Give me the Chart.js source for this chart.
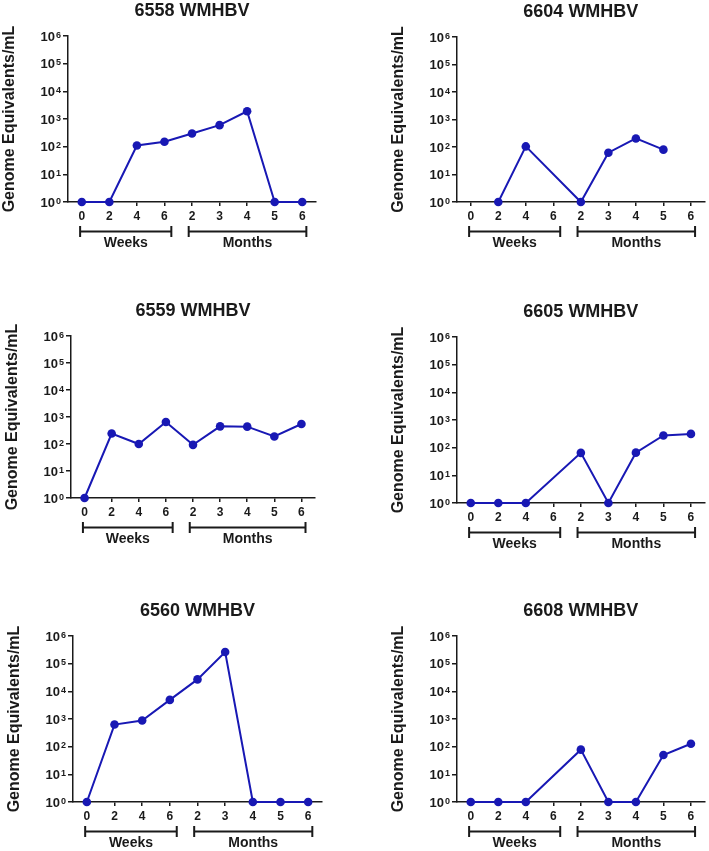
<!DOCTYPE html>
<html>
<head>
<meta charset="utf-8">
<script src="https://cdn.jsdelivr.net/npm/chart.js@4.4.1/dist/chart.umd.min.js"></script>
<style>
  html, body { margin: 0; padding: 0; background: #fff; }
  body { width: 709px; height: 851px; position: relative; overflow: hidden; }
  canvas { position: absolute; }
</style>
</head>
<body>
<script>
// x categories: weeks 0..6 then months 2..6
const timeLabels = ['0', '2', '4', '6', '2', '3', '4', '5', '6'];
const groupLabels = ['Weeks', 'Months'];
const groupRanges = [[0, 3], [4, 8]];
const yTicks = [1, 10, 100, 1000, 10000, 100000, 1000000];

const titles = ['6558 WMHBV', '6604 WMHBV', '6559 WMHBV', '6605 WMHBV', '6560 WMHBV', '6608 WMHBV'];
const wm6558 = [1, 1, 110, 150, 300, 600, 1900, 1, 1];
const wm6604 = [null, 1, 105, null, 1, 62, 205, 80, null];
const wm6559 = [1, 245, 100, 650, 93, 450, 440, 190, 550];
const wm6605 = [1, 1, 1, null, 65, 1, 66, 275, 315];
const wm6560 = [1, 630, 880, 4900, 27000, 265000, 1, 1, 1];
const wm6608 = [1, 1, 1, null, 78, 1, 1, 50, 128];
const series = [wm6558, wm6604, wm6559, wm6605, wm6560, wm6608];

// where each panel's plot area sits on the page
const boxes = [
  { colL: 0,   colW: 354, axL: 68,  axR: 316, axT: 36,  axB: 202 },
  { colL: 354, colW: 355, axL: 457, axR: 706, axT: 37,  axB: 202 },
  { colL: 0,   colW: 354, axL: 71,  axR: 315, axT: 336, axB: 498 },
  { colL: 354, colW: 355, axL: 457, axR: 706, axT: 337, axB: 503 },
  { colL: 0,   colW: 354, axL: 73,  axR: 322, axT: 636, axB: 802 },
  { colL: 354, colW: 355, axL: 457, axR: 706, axT: 636, axB: 802 }
];

const FONT = "'Liberation Sans', Arial, Helvetica, sans-serif";
const INK = '#1a1a1a';
const BLUE = '#1818b4';
const Y_W = 68, X_H = 22, TITLE_H = 36, BELOW = 48;

// Weeks / Months brackets under the x axis
const bracketPlugin = {
  id: 'brackets',
  afterDraw(chart) {
    const xs = chart.scales.x;
    const ctx = chart.ctx;
    const base = chart.chartArea.bottom;
    const step = xs.getPixelForValue(1) - xs.getPixelForValue(0);
    const ext = [[-0.06, 0.25], [-0.12, 0.15]];
    ctx.save();
    ctx.strokeStyle = INK;
    ctx.lineWidth = 2;
    ctx.fillStyle = INK;
    ctx.font = 'bold 14px ' + FONT;
    ctx.textAlign = 'center';
    ctx.textBaseline = 'middle';
    groupRanges.forEach((r, i) => {
      const x1 = xs.getPixelForValue(r[0]) + ext[i][0] * step;
      const x2 = xs.getPixelForValue(r[1]) + ext[i][1] * step;
      const y = base + 29.5;
      ctx.beginPath();
      ctx.moveTo(x1, y); ctx.lineTo(x2, y);
      ctx.moveTo(x1, y - 5.5); ctx.lineTo(x1, y + 5.5);
      ctx.moveTo(x2, y - 5.5); ctx.lineTo(x2, y + 5.5);
      ctx.stroke();
      ctx.fillText(groupLabels[i], (x1 + x2) / 2, base + 41.5);
    });
    ctx.restore();
  }
};

// "10" with a raised exponent at each decade tick of the log axis
const powerLabelPlugin = {
  id: 'powerLabels',
  afterDraw(chart) {
    const ys = chart.scales.y;
    const ctx = chart.ctx;
    const right = ys.right - 7;
    ctx.save();
    ctx.fillStyle = INK;
    ctx.textBaseline = 'alphabetic';
    ctx.textAlign = 'right';
    ys.ticks.forEach(t => {
      const y = ys.getPixelForValue(t.value);
      const exp = String(Math.round(Math.log10(t.value)));
      ctx.font = 'bold 9px ' + FONT;
      const ew = ctx.measureText(exp).width;
      ctx.fillText(exp, right, y + 1.8);
      ctx.font = 'bold 13px ' + FONT;
      ctx.fillText('10', right - ew - 1, y + 4.7);
    });
    ctx.restore();
  }
};

boxes.forEach((b, i) => {
  const cv = document.createElement('canvas');
  const top = b.axT - TITLE_H;
  const h = (b.axB - b.axT) + TITLE_H + BELOW;
  cv.width = b.colW;
  cv.height = h;
  cv.style.left = b.colL + 'px';
  cv.style.top = top + 'px';
  document.body.appendChild(cv);

  new Chart(cv.getContext('2d'), {
    type: 'line',
    data: {
      labels: timeLabels,
      datasets: [{
        data: series[i],
        borderColor: BLUE,
        backgroundColor: BLUE,
        borderWidth: 2,
        pointRadius: 4.3,
        pointBackgroundColor: BLUE,
        pointBorderColor: BLUE,
        pointBorderWidth: 0,
        spanGaps: true,
        tension: 0,
        clip: false
      }]
    },
    options: {
      responsive: false,
      animation: false,
      devicePixelRatio: 1,
      layout: {
        padding: {
          left: b.axL - b.colL - Y_W,
          right: b.colL + b.colW - b.axR,
          top: 0,
          bottom: BELOW - X_H
        }
      },
      plugins: {
        legend: { display: false },
        tooltip: { enabled: false },
        title: {
          display: true,
          text: titles[i],
          fullSize: false,
          color: INK,
          font: { family: FONT, size: 18, weight: 'bold', lineHeight: 1.2 },
          padding: { top: 0, bottom: TITLE_H - 21.6 }
        }
      },
      scales: {
        x: {
          type: 'category',
          offset: true,
          afterFit(s) { s.height = X_H; },
          border: { display: true, color: INK, width: 1.5 },
          grid: { drawOnChartArea: false, drawTicks: true, tickLength: 4, color: INK, lineWidth: 1.5 },
          ticks: { color: INK, padding: 3, maxRotation: 0, autoSkip: false, font: { family: FONT, size: 12, weight: 'bold' } }
        },
        y: {
          type: 'logarithmic',
          min: 1,
          max: 1000000,
          afterFit(s) { s.width = Y_W; },
          afterBuildTicks(s) { s.ticks = yTicks.map(v => ({ value: v })); },
          border: { display: true, color: INK, width: 1.5 },
          grid: { drawOnChartArea: false, drawTicks: true, tickLength: 5, color: INK, lineWidth: 1.5 },
          ticks: { display: false },
          title: {
            display: true,
            text: 'Genome Equivalents/mL',
            color: INK,
            padding: { top: 0, bottom: 0 },
            font: { family: FONT, size: 16, weight: 'bold', lineHeight: 1.2 }
          }
        }
      }
    },
    plugins: [bracketPlugin, powerLabelPlugin]
  });
});
</script>
</body>
</html>
